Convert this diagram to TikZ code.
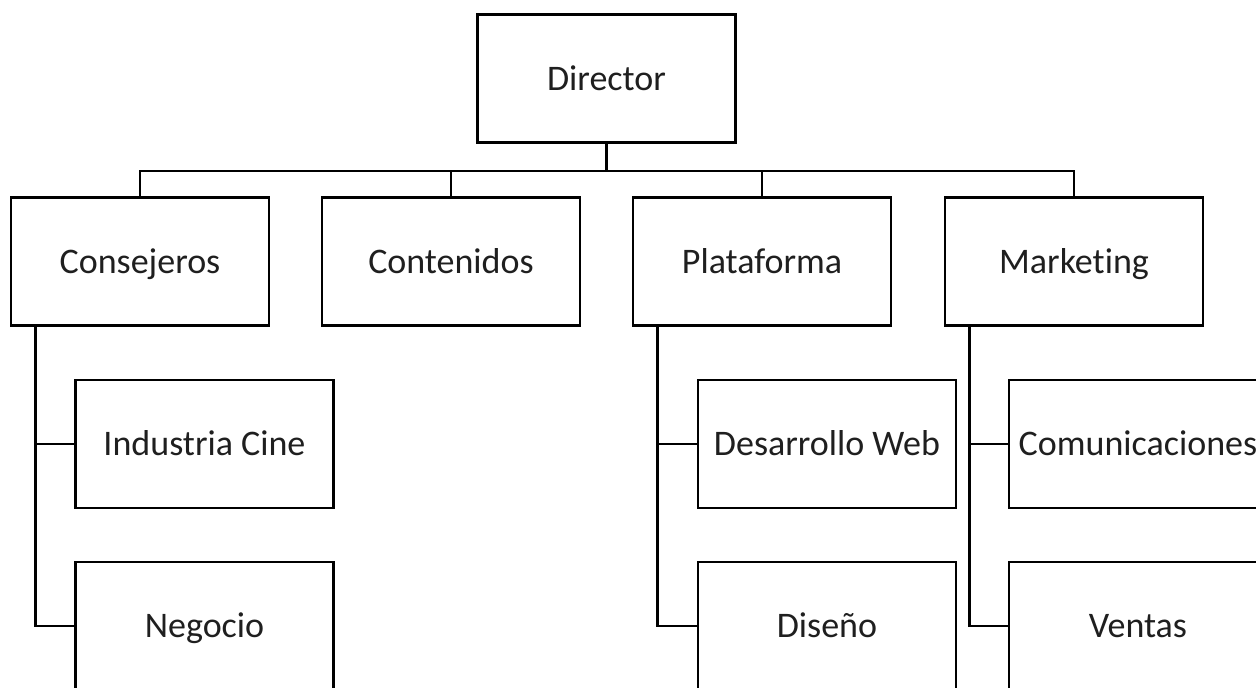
\documentclass[tikz,border=0pt]{standalone}
\usepackage{fontspec}
\setmainfont[Ligatures={NoCommon}]{Carlito}
\usetikzlibrary{calc}
\begin{document}
\begin{tikzpicture}[x=1pt,y=-1pt,
  unit/.style={draw=black, line width=2.6pt, rectangle, minimum width=258pt,
    minimum height=128pt, inner sep=1pt, text height=24pt, text depth=1pt,
    font=\fontsize{36}{40}\selectfont, text=black!88},
  link/.style={draw=black, line width=2.6pt}]
  \useasboundingbox (0,0) rectangle (1256,688);
  \clip (0,0) rectangle (1256,688);
  % top level
  \node[unit] (dir) at (606.5,78.5) {Director};
  % second level
  \node[unit] (cons) at (140,261.5) {Consejeros};
  \node[unit] (cont) at (451,261.5) {Contenidos};
  \node[unit] (plat) at (762,261.5) {Plataforma};
  \node[unit] (mark) at (1074,261.5) {Marketing};
  % third level
  \node[unit] (ind) at (204.5,444) {Industria Cine};
  \node[unit] (neg) at (204.5,626) {Negocio};
  \node[unit] (web) at (827,444) {Desarrollo Web};
  \node[unit] (dis) at (827,626) {Diseño};
  \node[unit] (com) at (1138,444) {Comunicaciones};
  \node[unit] (ven) at (1138,626) {Ventas};
  % bus below the director
  \coordinate (bus) at ($(dir.south)+(0,27)$);
  \draw[link] (dir.south) -- (bus);
  \foreach \n in {cons,cont,plat,mark}
    \draw[link] (\n.north) |- (bus);
  % side branches
  \coordinate (consl) at ($(cons.south west)+(26,0)$);
  \coordinate (platl) at ($(plat.south west)+(26,0)$);
  \coordinate (markl) at ($(mark.south west)+(26,0)$);
  \draw[link] (consl) |- (ind.west);
  \draw[link] (consl) |- (neg.west);
  \draw[link] (platl) |- (web.west);
  \draw[link] (platl) |- (dis.west);
  \draw[link] (markl) |- (com.west);
  \draw[link] (markl) |- (ven.west);
\end{tikzpicture}
\end{document}
